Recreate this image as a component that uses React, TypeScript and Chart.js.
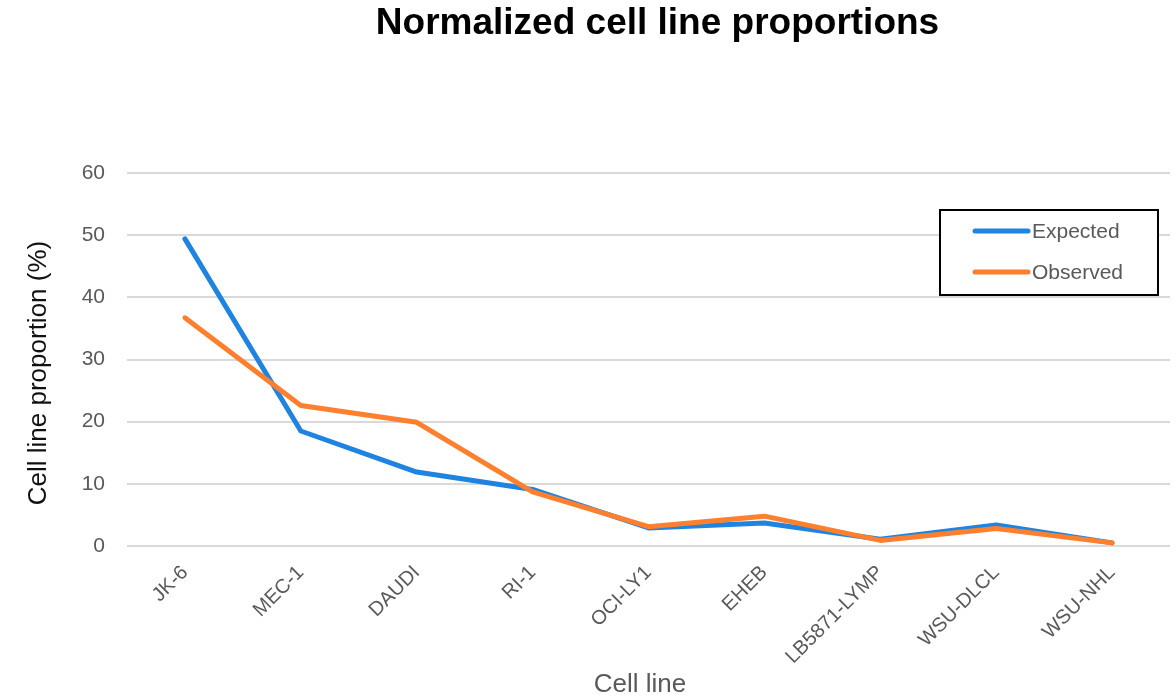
import React, { useEffect, useRef } from "react";
import { Chart, registerables } from "chart.js";

Chart.register(...registerables);

const cellLines = [
  "JK-6",
  "MEC-1",
  "DAUDI",
  "RI-1",
  "OCI-LY1",
  "EHEB",
  "LB5871-LYMP",
  "WSU-DLCL",
  "WSU-NHL",
];
const expected = [49.4, 18.5, 11.9, 9.1, 2.9, 3.7, 1.1, 3.4, 0.5];
const observed = [36.7, 22.6, 19.9, 8.7, 3.1, 4.8, 0.9, 2.8, 0.5];
const yTicks = [0, 10, 20, 30, 40, 50, 60];

const FONT = "'Liberation Sans', Arial, Helvetica, sans-serif";
const BLUE = "#1f84e0";
const ORANGE = "#fe7f2d";
const TICK_GREY = "#595959";

// Draws the chart title, axis titles and boxed legend onto the canvas.
const decorations = {
  id: "decorations",
  afterDraw(chart: Chart) {
    const { ctx, chartArea } = chart;
    ctx.save();

    ctx.fillStyle = "#000";
    ctx.font = `bold 37px ${FONT}`;
    ctx.textAlign = "center";
    ctx.textBaseline = "middle";
    ctx.fillText("Normalized cell line proportions", chartArea.left + (chartArea.right - chartArea.left) / 2 + 9, 24);

    ctx.font = `26px ${FONT}`;
    ctx.fillStyle = "#111";
    ctx.save();
    ctx.translate(39, 373);
    ctx.rotate(-Math.PI / 2);
    ctx.fillText("Cell line proportion (%)", 0, 0);
    ctx.restore();

    ctx.fillStyle = TICK_GREY;
    ctx.fillText("Cell line", 640, 685);

    // legend
    const bx = 940, by = 210, bw = 218, bh = 85;
    ctx.fillStyle = "#fff";
    ctx.fillRect(bx, by, bw, bh);
    ctx.strokeStyle = "#000";
    ctx.lineWidth = 2;
    ctx.strokeRect(bx, by, bw, bh);

    const items = [
      { label: "Expected", color: BLUE, y: 231 },
      { label: "Observed", color: ORANGE, y: 272 },
    ];
    ctx.lineCap = "round";
    ctx.lineWidth = 5;
    ctx.font = `21px ${FONT}`;
    ctx.textAlign = "left";
    for (const it of items) {
      ctx.strokeStyle = it.color;
      ctx.beginPath();
      ctx.moveTo(975, it.y);
      ctx.lineTo(1028, it.y);
      ctx.stroke();
      ctx.fillStyle = TICK_GREY;
      ctx.fillText(it.label, 1032, it.y + 1);
    }
    ctx.restore();
  },
};

export default function App() {
  const canvasRef = useRef<HTMLCanvasElement | null>(null);

  useEffect(() => {
    if (!canvasRef.current) return;
    Chart.defaults.font.family = FONT;
    const chart = new Chart(canvasRef.current, {
      type: "line",
      data: {
        labels: cellLines,
        datasets: [
          {
            label: "Expected",
            data: expected,
            order: 2,
            borderColor: BLUE,
            backgroundColor: BLUE,
            borderWidth: 5,
            pointRadius: 0,
            tension: 0,
            borderCapStyle: "round",
            borderJoinStyle: "round",
          },
          {
            label: "Observed",
            data: observed,
            order: 1,
            borderColor: ORANGE,
            backgroundColor: ORANGE,
            borderWidth: 5,
            pointRadius: 0,
            tension: 0,
            borderCapStyle: "round",
            borderJoinStyle: "round",
          },
        ],
      },
      options: {
        animation: false,
        responsive: true,
        maintainAspectRatio: false,
        layout: { padding: { top: 173, right: 6, left: 0, bottom: 0 } },
        plugins: {
          legend: { display: false },
          title: { display: false },
          tooltip: { enabled: false },
        },
        scales: {
          x: {
            type: "category",
            offset: true,
            grid: { display: false, drawTicks: false },
            border: { display: false },
            ticks: {
              autoSkip: false,
              minRotation: 45,
              maxRotation: 45,
              padding: 15,
              color: TICK_GREY,
              font: { size: 20 },
            },
            afterFit(scale: any) {
              scale.height = 153;
            },
          },
          y: {
            min: yTicks[0],
            max: yTicks[yTicks.length - 1],
            afterBuildTicks(scale: any) {
              scale.ticks = yTicks.map((v) => ({ value: v }));
            },
            grid: { color: "#d9d9d9", lineWidth: 2, drawTicks: false },
            border: { display: false },
            ticks: {
              padding: 22,
              color: TICK_GREY,
              font: { size: 21 },
            },
            afterFit(scale: any) {
              scale.width = 127;
            },
          },
        },
      },
      plugins: [decorations],
    });
    return () => chart.destroy();
  }, []);

  return (
    <div style={{ position: "absolute", left: 0, top: 0, width: 1176, height: 699, background: "#fff" }}>
      <canvas ref={canvasRef} />
    </div>
  );
}
